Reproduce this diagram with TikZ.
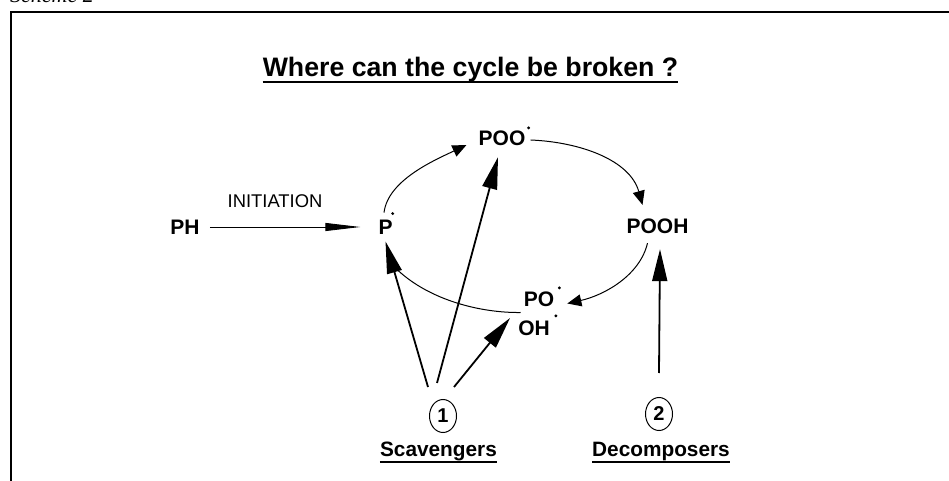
\documentclass[tikz,border=0pt]{standalone}
\usepackage{fontspec}
\setmainfont{Liberation Sans}
\newfontfamily\schemefont{Liberation Serif}
\usetikzlibrary{arrows.meta,calc,shapes.geometric}
\begin{document}
\begin{tikzpicture}[x=1bp,y=-1bp,
  lbl/.style={inner sep=0pt, font=\fontsize{21bp}{24bp}\selectfont\bfseries},
  circ/.style={draw, ellipse, line width=1bp, minimum width=27bp, minimum height=33bp, inner sep=0pt, font=\fontsize{20bp}{22bp}\selectfont\bfseries},
  uline/.style={inner sep=0pt, anchor=base, font=\fontsize{20.8bp}{23bp}\selectfont\bfseries},
  bigarrow/.style={line width=1.8bp, -{Triangle[length=32bp,width=15bp]}},
  cyclearrow/.style={line width=1bp, -{Triangle[length=14bp,width=12bp]}},
  cycleline/.style={line width=1bp}]
\useasboundingbox (0,0) rectangle (949,481);
% frame
\draw[line width=2bp] (11,495) -- (11,12);
\draw[line width=1.5bp] (10,12) -- (960,12);
\node[anchor=base west, inner sep=0pt, font={\schemefont\itshape\fontsize{22bp}{24bp}\selectfont}] (sch) at (10,3) {Scheme 2};
% title
\node[anchor=base, inner sep=0pt, font=\fontsize{26.7bp}{30bp}\selectfont\bfseries] (title) at (470.5,77) {Where can the cycle be broken ?};
\draw[line width=1.6bp] ([yshift=-5bp]title.base west) -- ([yshift=-5bp]title.base east);
% species
\node[lbl] (ph) at (185,227) {PH};
\node[inner sep=0pt, font=\fontsize{18.4bp}{20bp}\selectfont] (init) at (275,201.5) {INITIATION};
\node[lbl] (p) at (385.5,227) {P};
\node[lbl] (poo) at (502,138.5) {POO};
\node[lbl] (pooh) at (657.5,226.5) {POOH};
\node[lbl] (po) at (539,299.5) {PO};
\node[lbl] (oh) at (534,328.5) {OH};
% radical dots
\fill ($(p.north east)+(0,-6)$) circle (1.6bp);
\fill ($(poo.north east)+(3,-3)$) circle (1.6bp);
\fill ($(po.north east)+(5,-4)$) circle (1.6bp);
\fill ($(oh.north east)+(6,-5)$) circle (1.6bp);
% circled numbers and labels
\node[circ] (c1) at (443,416) {1};
\node[circ] (c2) at (659,414) {2};
\node[uline] (scav) at (438.5,456) {Scavengers};
\node[uline] (dec) at (661,456) {Decomposers};
\draw[line width=1.4bp] ([yshift=-6bp]scav.base west) -- ([yshift=-6bp]scav.base east);
\draw[line width=1.4bp] ([yshift=-6bp]dec.base west) -- ([yshift=-6bp]dec.base east);
% initiation
\draw[line width=0.9bp, -{Triangle[length=35bp,width=8bp]}, shorten <=10bp, shorten >=18bp] (ph.east) -- (p.west);
% cycle
\draw[cyclearrow] ($(p.north)+(-1.5,-7)$) .. controls (388,180) and (435,160) .. ($(poo.west)+(-12,6.5)$);
\draw[cyclearrow] ($(poo.east)+(5,1.5)$) .. controls (580,142) and (630,160) .. ($(pooh.north)+(-15,-14)$);
\draw[cyclearrow] ($(pooh.south)+(-10,9)$) .. controls (640,275) and (605,295) .. ($(po.east)+(13,4)$);
\draw[cycleline] ($(po.west)+(-3,13)$) .. controls (480,313) and (430,300) .. ($(p.south)+(12.5,36)$);
% scavenger / decomposer arrows
\draw[bigarrow] ($(c1.north)+(-15,-12)$) -- ($(p.south)+(0,7)$);
\draw[bigarrow] ($(c1.north)+(-6,-16)$) -- ($(poo.south)+(-4,11)$);
\draw[bigarrow] ($(c1.north)+(11,-12)$) -- ($(oh.west)+(-8,-10.5)$);
\draw[bigarrow] ($(c2.north)+(0,-24)$) -- ($(pooh.south)+(2.5,15)$);
\end{tikzpicture}
\end{document}
